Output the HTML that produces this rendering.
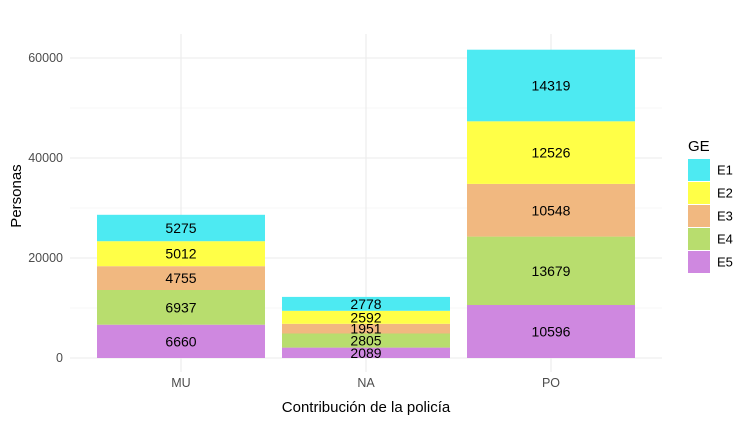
<!DOCTYPE html><html><head><meta charset="utf-8"><style>html,body{margin:0;padding:0;background:#fff}svg{display:block;font-family:"Liberation Sans",Arial,sans-serif}</style></head><body>
<svg width="751" height="422" viewBox="0 0 751 422">
<rect width="751" height="422" fill="#fff"/>
<g stroke="#f4f4f4" stroke-width="0.7">
<line x1="70" x2="662" y1="308" y2="308"/><line x1="70" x2="662" y1="208" y2="208"/><line x1="70" x2="662" y1="108" y2="108"/>
</g>
<g stroke="#ebebeb" stroke-width="1.1">
<line x1="70" x2="662" y1="358" y2="358"/><line x1="70" x2="662" y1="258" y2="258"/><line x1="70" x2="662" y1="158" y2="158"/><line x1="70" x2="662" y1="58" y2="58"/>
<line x1="181" x2="181" y1="34" y2="372"/><line x1="366" x2="366" y1="34" y2="372"/><line x1="551" x2="551" y1="34" y2="372"/>
</g>
<g>
<rect x="97" y="324.7" width="168" height="33.3" fill="#cf88e0"/>
<rect x="97" y="290.0" width="168" height="34.7" fill="#b8dd6e"/>
<rect x="97" y="266.2" width="168" height="23.8" fill="#f1b880"/>
<rect x="97" y="241.2" width="168" height="25" fill="#ffff47"/>
<rect x="97" y="214.8" width="168" height="26.4" fill="#4deaf2"/>
<rect x="282" y="347.6" width="168" height="10.4" fill="#cf88e0"/>
<rect x="282" y="333.5" width="168" height="14.1" fill="#b8dd6e"/>
<rect x="282" y="323.8" width="168" height="9.7" fill="#f1b880"/>
<rect x="282" y="310.8" width="168" height="13" fill="#ffff47"/>
<rect x="282" y="296.9" width="168" height="13.9" fill="#4deaf2"/>
<rect x="467" y="305.0" width="168" height="53" fill="#cf88e0"/>
<rect x="467" y="236.6" width="168" height="68.4" fill="#b8dd6e"/>
<rect x="467" y="183.9" width="168" height="52.7" fill="#f1b880"/>
<rect x="467" y="121.3" width="168" height="62.6" fill="#ffff47"/>
<rect x="467" y="49.7" width="168" height="71.6" fill="#4deaf2"/>
</g>
<g font-size="14" fill="#000" text-anchor="middle" dominant-baseline="central">
<text x="181" y="341.3">6660</text><text x="181" y="307.3">6937</text><text x="181" y="278.1">4755</text><text x="181" y="253.7">5012</text><text x="181" y="228">5275</text>
<text x="366" y="352.8">2089</text><text x="366" y="340.5">2805</text><text x="366" y="328.6">1951</text><text x="366" y="317.3">2592</text><text x="366" y="303.9">2778</text>
<text x="551" y="331.5">10596</text><text x="551" y="270.8">13679</text><text x="551" y="210.3">10548</text><text x="551" y="152.6">12526</text><text x="551" y="85.5">14319</text>
</g>
<g font-size="12.5" fill="#4d4d4d" text-anchor="end" dominant-baseline="central">
<text x="63" y="358">0</text><text x="63" y="258">20000</text><text x="63" y="158">40000</text><text x="63" y="58">60000</text>
</g>
<g font-size="12.5" fill="#4d4d4d" text-anchor="middle">
<text x="181" y="387">MU</text><text x="366" y="387">NA</text><text x="551" y="387">PO</text>
</g>
<text x="366" y="412" font-size="15" text-anchor="middle" fill="#000">Contribución de la policía</text>
<text transform="translate(21,196) rotate(-90)" font-size="15" text-anchor="middle" fill="#000">Personas</text>
<text x="688" y="151" font-size="15" fill="#000">GE</text>
<rect x="688" y="159" width="22" height="22" fill="#4deaf2"/>
<rect x="688" y="182" width="22" height="22" fill="#ffff47"/>
<rect x="688" y="205" width="22" height="22" fill="#f1b880"/>
<rect x="688" y="228" width="22" height="22" fill="#b8dd6e"/>
<rect x="688" y="251" width="22" height="22" fill="#cf88e0"/>
<g font-size="13" fill="#000" dominant-baseline="central">
<text x="717" y="170">E1</text><text x="717" y="193">E2</text><text x="717" y="216">E3</text><text x="717" y="239">E4</text><text x="717" y="262">E5</text>
</g>
</svg>
</body></html>
